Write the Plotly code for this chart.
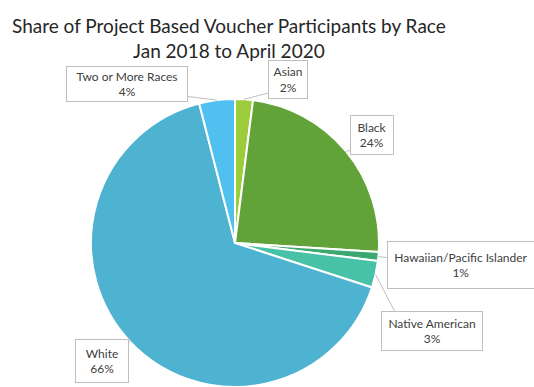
import math
import plotly.graph_objects as go

# Participant share by race (percent)
races = ["Asian", "Black", "Hawaiian/Pacific Islander", "Native American", "White", "Two or More Races"]
shares = [2, 24, 1, 3, 66, 4]
colors = ["#9CCB3B", "#62A339", "#3BA96F", "#47C2A6", "#4EB3D0", "#4FC0EF"]

W, H = 534, 387
CX, CY, R = 235, 243, 144  # pie centre and radius in pixels

# Callout box geometry: (centre x, centre y, width, height) in pixels, and the box corner the pointer leaves from
boxes = {
    "Asian": (288, 79, 38, 37, (272, 92)),
    "Black": (372, 135, 42, 38, (355, 150)),
    "Hawaiian/Pacific Islander": (461, 265, 146, 46, (390, 258)),
    "Native American": (432, 331, 100, 38, (395, 312)),
    "White": (102, 361, 52, 42, (124, 340)),
    "Two or More Races": (127, 84, 120, 34, (184, 96)),
}

fig = go.Figure(go.Pie(
    labels=races,
    values=shares,
    marker=dict(colors=colors, line=dict(color="white", width=2)),
    sort=False,
    direction="clockwise",
    rotation=0,
    textinfo="none",
    hoverinfo="label+percent",
    domain=dict(x=[(CX - R) / W, (CX + R) / W], y=[(H - CY - R) / H, (H - CY + R) / H]),
    showlegend=False,
))

def px(x):
    return x / W

def py(y):
    return 1 - y / H

annotations = []
shapes = []
total = sum(shares)
cum = 0
for race, v in zip(races, shares):
    mid = (cum + v / 2) / total * 2 * math.pi
    cum += v
    ex = CX + R * math.sin(mid)
    ey = CY - R * math.cos(mid)
    bx, by, bw, bh, (ox, oy) = boxes[race]
    shapes.append(dict(type="line", xref="paper", yref="paper",
                       x0=px(ox), y0=py(oy), x1=px(ex), y1=py(ey),
                       line=dict(color="#BFBFBF", width=1)))
    annotations.append(dict(
        x=px(bx), y=py(by), xref="paper", yref="paper",
        xanchor="center", yanchor="middle",
        text=f"{race}<br>{v}%", showarrow=False,
        font=dict(family="Lato, Arial", size=12, color="#404040"),
        bgcolor="white", bordercolor="#BFBFBF", borderwidth=1, borderpad=0,
        width=bw, height=bh, align="center",
    ))

annotations.append(dict(
    x=px(229), y=py(38), xref="paper", yref="paper",
    xanchor="center", yanchor="middle", showarrow=False,
    text="Share of Project Based Voucher Participants by Race<br>Jan 2018 to April 2020",
    font=dict(family="Lato, Arial", size=19, color="#262626"),
    align="center",
))

fig.update_layout(
    width=W, height=H,
    margin=dict(l=0, r=0, t=0, b=0),
    paper_bgcolor="white",
    plot_bgcolor="white",
    annotations=annotations,
    shapes=shapes,
)

fig.write_html("out.html")
